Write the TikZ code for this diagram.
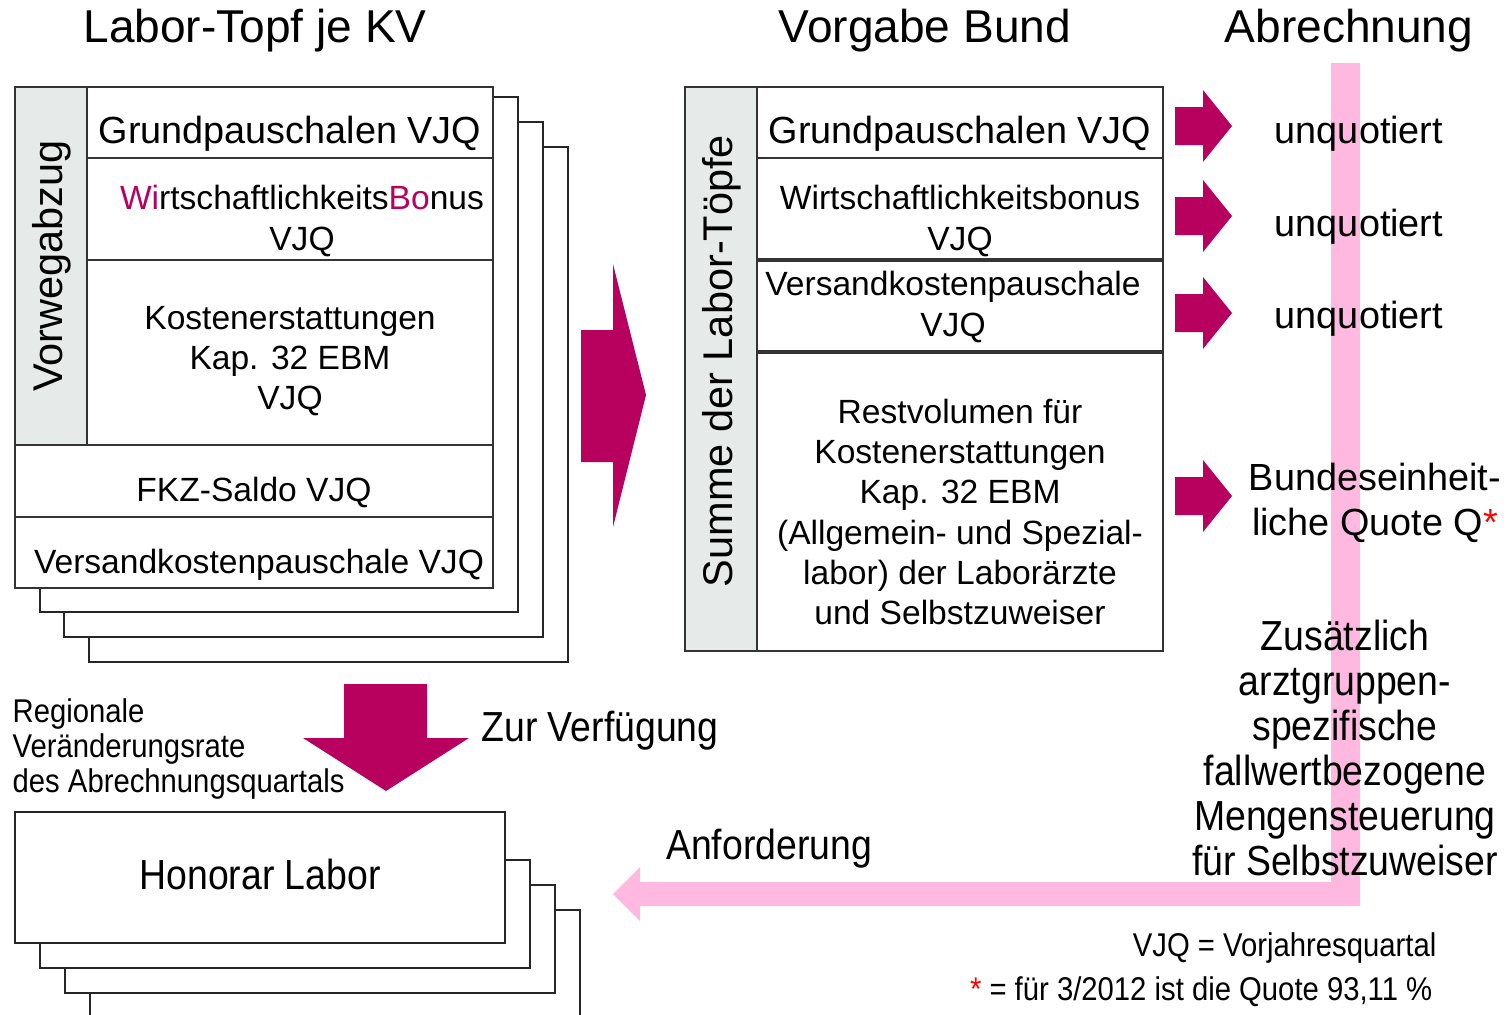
\documentclass[tikz,border=0pt]{standalone}
\usepackage{fontspec}
\setmainfont{Liberation Sans}
\newfontfamily\narrowfont[FakeStretch=0.89]{Liberation Sans}
\usetikzlibrary{positioning}
\definecolor{labmagenta}{RGB}{184,0,94}
\definecolor{labpink}{RGB}{255,185,225}
\definecolor{labgray}{RGB}{230,235,234}
\tikzset{
  cell/.style={draw=black!80, line width=0.6pt},
  page/.style={draw=black!85, line width=0.6pt, fill=white},
  title/.style={font=\fontsize{13.1}{15}\selectfont, inner sep=0pt},
  big/.style={font=\fontsize{10.75}{12.5}\selectfont, inner sep=0pt, align=center},
  small/.style={font=\fontsize{9.55}{11.4}\selectfont, inner sep=0pt, align=center},
  side/.style={font=\fontsize{11.8}{14}\selectfont, inner sep=0pt, rotate=90},
  narrow/.style={font=\narrowfont\fontsize{11.95}{12.8}\selectfont, inner sep=0pt, align=center},
  note/.style={font=\narrowfont\fontsize{9.35}{10}\selectfont, inner sep=0pt, align=left},
  blockarrow/.style={fill=labmagenta, draw=none},
}
\newcommand{\mg}[1]{\textcolor{labmagenta}{#1}}

\begin{document}
\begin{tikzpicture}[x=0.01cm, y=-0.01cm]
\useasboundingbox (0,0) rectangle (1508,1015);

% pink return path
\fill[labpink] (1331,63) -- (1360,63) -- (1360,906) -- (640,906) -- (640,921)
  -- (613,894) -- (640,867) -- (640,882) -- (1331,882) -- cycle;

% titles
\node[title] (tkv) at (255,31) {Labor-Topf je KV};
\node[title] (tbund) at (925,31) {Vorgabe Bund};
\node[title] (tabr) at (1349,31) {Abrechnung};

% Labor-Topf je KV
\foreach \l/\t/\r/\b in {89/147/568/662, 64/122/543/637, 40/97/518/612}
  \draw[page] (\l,\t) rectangle (\r,\b);
\draw[page] (15,87) rectangle (493,588);
\fill[labgray] (15,87) rectangle (87,445);
\draw[cell] (87,87) -- (87,445);
\draw[cell] (87,158) -- (493,158);
\draw[cell] (87,260) -- (493,260);
\draw[cell] (15,445) -- (493,445);
\draw[cell] (15,517) -- (493,517);
\draw[cell] (15,87) rectangle (493,588);

\node[side] (vorweg) at (52,266) {Vorwegabzug};
\node[big] (kvgrund) at (290,134) {Grundpauschalen VJQ};
\node[small] (kvwirt) at (302,221) {\mg{Wi}rtschaftlichkeits\mg{Bo}nus\\VJQ};
\node[small] (kvkost) at (290,361) {Kostenerstattungen\\Kap. 32 EBM\\VJQ};
\node[small] (kvfkz) at (254,493) {FKZ-Saldo VJQ};
\node[small] (kvvers) at (259,565) {Versandkostenpauschale VJQ};

% arrow to Vorgabe Bund
\fill[blockarrow] (581,330) -- (613,330) -- (613,264) -- (646,395) -- (613,527)
  -- (613,462) -- (581,462) -- cycle;

% Vorgabe Bund
\draw[page] (685,87) rectangle (1163,651);
\fill[labgray] (685,87) rectangle (757,651);
\draw[cell] (757,87) -- (757,651);
\draw[cell] (757,158) -- (1163,158);
\draw[cell, line width=0.9pt] (757,260) -- (1163,260);
\draw[cell, line width=0.9pt] (757,352) -- (1163,352);
\draw[cell] (685,87) rectangle (1163,651);

\node[side] (summe) at (722,361) {Summe der Labor-Töpfe};
\node[big] (bgrund) at (960,134) {Grundpauschalen VJQ};
\node[small] (bwirt) at (960,221) {Wirtschaftlichkeitsbonus\\VJQ};
\node[small] (bvers) at (953,307) {Versandkostenpauschale\\VJQ};
\node[small] (brest) at (960,512) {Restvolumen für\\Kostenerstattungen\\Kap. 32 EBM\\(Allgemein- und Spezial-\\labor) der Laborärzte\\und Selbstzuweiser};

% Abrechnung
\foreach \y in {126,216,313,496}
  \fill[blockarrow] (1175,\y-19) -- (1203,\y-19) -- (1203,\y-36) -- (1232,\y)
    -- (1203,\y+36) -- (1203,\y+19) -- (1175,\y+19) -- cycle;
\node[big] (unq1) at (1359,134) {unquotiert};
\node[big] (unq2) at (1359,227) {unquotiert};
\node[big] (unq3) at (1359,319) {unquotiert};
\node[big, font=\fontsize{10.75}{12.6}\selectfont] (quote) at (1375,503)
  {Bundeseinheit-\\liche Quote Q\textcolor{red}{*}};
\node[narrow] (menge) at (1345,748) {Zusätzlich\\arztgruppen-\\spezifische\\fallwertbezogene\\Mengensteuerung\\für Selbstzuweiser};

% Honorar Labor
\fill[blockarrow] (344,684) -- (427,684) -- (427,738) -- (469,738) -- (386,791)
  -- (303,738) -- (344,738) -- cycle;
\node[note, anchor=west] (rate) at (12,749) {Regionale\\Veränderungsrate\\des Abrechnungsquartals};
\node[narrow] (verf) at (600,731) {Zur Verfügung};
\node[narrow] (anf) at (769,849) {Anforderung};

\foreach \l/\t/\r/\b in {90/910/580/1040, 65/885/555/993, 40/860/530/968}
  \draw[page] (\l,\t) rectangle (\r,\b);
\draw[page] (15,812) rectangle (505,943);
\node[narrow] (honorar) at (260,874) {Honorar Labor};

% notes
\node[note, anchor=east] (vjq) at (1437,948) {VJQ = Vorjahresquartal};
\node[note, anchor=east] (stern) at (1433,992) {\textcolor{red}{*} = für 3/2012 ist die Quote 93,11 \%};
\end{tikzpicture}
\end{document}
